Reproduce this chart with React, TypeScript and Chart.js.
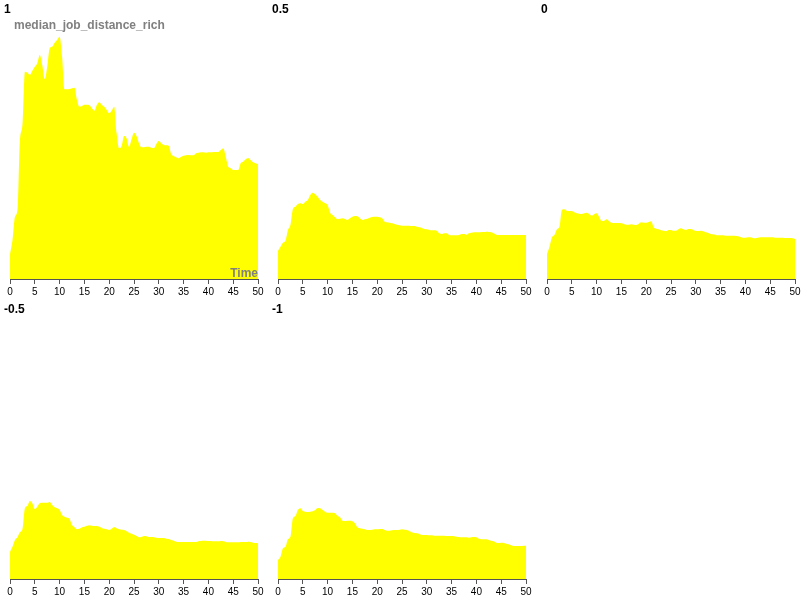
import React, { useEffect, useRef } from "react";
import { Chart, registerables } from "chart.js";

Chart.register(...registerables);

const FONT = '"Liberation Sans", Arial, Helvetica, sans-serif';

// Time grid (x values)
const times = [
  0, 0.5, 1, 1.5, 2, 2.5, 3, 3.5, 4, 4.5,
  5, 5.5, 6, 6.5, 7, 7.5, 8, 8.5, 9, 9.5,
  10, 10.5, 11, 11.5, 12, 12.5, 13, 13.5, 14, 14.5,
  15, 15.5, 16, 16.5, 17, 17.5, 18, 18.5, 19, 19.5,
  20, 20.5, 21, 21.5, 22, 22.5, 23, 23.5, 24, 24.5,
  25, 25.5, 26, 26.5, 27, 27.5, 28, 28.5, 29, 29.5,
  30, 30.5, 31, 31.5, 32, 32.5, 33, 33.5, 34, 34.5,
  35, 35.5, 36, 36.5, 37, 37.5, 38, 38.5, 39, 39.5,
  40, 40.5, 41, 41.5, 42, 42.5, 43, 43.5, 44, 44.5,
  45, 45.5, 46, 46.5, 47, 47.5, 48, 48.5, 49, 49.5,
  50,
];

const xTicks = [0, 5, 10, 15, 20, 25, 30, 35, 40, 45, 50];

const panelLabels = ["1", "0.5", "0", "-0.5", "-1"];
const yTitle = "median_job_distance_rich";
const xTitle = "Time";

const series1 = [
  10.0, 15.6, 24.9, 27.6, 55.6, 61.6, 82.9, 82.5, 81.6, 83.3,
  84.9, 86.3, 89.6, 85.6, 80.0, 84.9, 92.3, 92.9, 94.5, 95.6,
  96.9, 88.9, 75.9, 75.9, 76.0, 76.3, 76.5, 71.6, 68.9, 69.2,
  69.7, 69.7, 69.5, 68.3, 67.3, 69.6, 70.7, 69.6, 68.9, 67.6,
  66.3, 67.3, 68.9, 58.3, 52.3, 53.2, 57.2, 56.3, 52.9, 55.9,
  58.5, 57.2, 54.3, 52.7, 52.7, 52.9, 52.9, 52.5, 52.3, 54.0,
  55.2, 54.3, 53.6, 53.5, 53.3, 50.0, 49.2, 48.7, 48.3, 48.9,
  49.3, 49.5, 49.6, 49.5, 49.5, 50.3, 50.5, 50.7, 50.7, 50.5,
  50.7, 50.7, 50.8, 50.8, 50.8, 51.6, 52.3, 48.9, 44.9, 44.3,
  43.6, 43.6, 43.6, 46.3, 46.9, 47.9, 48.4, 47.6, 46.7, 46.3,
  45.9,
];

const series05 = [
  11.3, 12.9, 14.5, 15.3, 19.6, 21.6, 28.0, 28.9, 30.0, 30.3,
  30.0, 30.9, 31.6, 33.6, 34.5, 33.9, 32.9, 31.6, 30.9, 30.3,
  29.6, 26.5, 25.6, 24.7, 23.9, 24.1, 24.3, 24.0, 23.6, 24.3,
  24.9, 25.2, 25.1, 24.3, 23.6, 23.9, 24.1, 24.5, 24.8, 24.9,
  24.9, 24.7, 24.3, 22.9, 22.7, 22.5, 22.3, 22.0, 21.7, 21.5,
  21.3, 21.3, 21.3, 21.3, 21.2, 21.2, 20.9, 20.7, 20.4, 20.0,
  19.9, 19.6, 19.5, 19.5, 19.3, 18.3, 18.0, 18.3, 18.3, 17.6,
  17.5, 17.5, 17.5, 17.6, 18.0, 18.0, 17.7, 18.3, 18.5, 18.7,
  18.7, 18.7, 18.8, 18.8, 18.9, 18.8, 18.7, 18.3, 17.7, 17.6,
  17.6, 17.6, 17.6, 17.6, 17.6, 17.6, 17.6, 17.6, 17.6, 17.6,
  17.6,
];

const series0 = [
  10.0, 12.9, 16.7, 17.6, 19.9, 20.9, 27.6, 27.9, 27.3, 27.2,
  27.2, 26.7, 26.3, 26.1, 26.0, 26.3, 26.5, 26.0, 25.3, 25.9,
  26.3, 24.9, 23.2, 23.3, 23.9, 23.2, 22.5, 22.4, 22.4, 22.4,
  22.3, 22.0, 21.7, 21.7, 21.9, 21.7, 21.6, 22.1, 22.7, 22.5,
  22.5, 22.8, 23.1, 20.7, 20.1, 19.9, 19.5, 19.3, 19.1, 19.6,
  19.6, 19.3, 19.3, 19.9, 20.3, 19.9, 19.6, 20.0, 20.0, 19.6,
  19.2, 19.2, 19.3, 19.1, 18.7, 18.4, 18.0, 17.9, 17.6, 17.5,
  17.5, 17.5, 17.3, 17.3, 17.3, 17.3, 17.2, 17.1, 16.8, 16.5,
  16.5, 16.7, 16.7, 16.4, 16.3, 16.5, 16.7, 16.7, 16.7, 16.7,
  16.7, 16.7, 16.5, 16.5, 16.5, 16.5, 16.4, 16.4, 16.4, 16.3,
  16.0,
];

const seriesM05 = [
  10.9, 12.9, 15.6, 16.7, 18.7, 19.9, 28.3, 29.2, 31.2, 30.3,
  28.0, 28.9, 30.3, 30.5, 30.5, 30.5, 30.8, 29.6, 28.7, 28.3,
  27.6, 25.6, 24.9, 24.5, 24.0, 21.6, 20.7, 19.9, 20.1, 20.7,
  20.9, 21.3, 21.5, 21.3, 21.2, 21.2, 20.9, 20.4, 20.1, 19.9,
  19.6, 20.1, 20.8, 20.3, 19.9, 19.7, 19.6, 19.1, 18.5, 18.1,
  17.7, 17.2, 16.7, 16.8, 17.2, 17.1, 16.8, 16.8, 16.7, 16.5,
  16.4, 16.4, 16.4, 16.1, 16.0, 15.6, 15.3, 14.9, 14.8, 14.8,
  14.8, 14.8, 14.8, 14.8, 14.8, 14.8, 15.1, 15.2, 15.3, 15.3,
  15.2, 15.2, 15.1, 15.1, 15.1, 15.2, 15.1, 14.8, 14.7, 14.7,
  14.7, 14.7, 14.7, 14.8, 14.8, 14.8, 14.9, 14.8, 14.5, 14.4,
  14.3,
];

const seriesM1 = [
  7.6, 8.9, 12.3, 12.9, 15.9, 16.9, 24.3, 25.2, 27.6, 28.3,
  27.2, 26.9, 26.8, 26.9, 27.1, 27.6, 28.4, 28.3, 27.6, 26.9,
  26.5, 26.5, 26.5, 26.3, 25.2, 24.7, 23.3, 23.2, 23.3, 23.3,
  23.1, 22.3, 20.7, 20.3, 20.1, 19.9, 19.6, 19.6, 19.7, 19.9,
  19.9, 20.0, 20.0, 19.6, 19.3, 19.3, 19.5, 19.6, 19.6, 19.7,
  19.9, 19.7, 19.6, 19.2, 18.7, 18.4, 18.3, 18.0, 17.6, 17.6,
  17.6, 17.5, 17.5, 17.3, 17.3, 17.3, 17.3, 17.3, 17.2, 17.2,
  17.2, 17.1, 16.9, 16.8, 16.7, 16.7, 16.7, 16.5, 16.7, 16.8,
  16.7, 16.1, 15.9, 15.9, 15.9, 15.6, 15.3, 15.1, 14.5, 14.4,
  14.5, 14.4, 14.1, 13.9, 13.5, 13.2, 13.2, 13.2, 13.2, 13.3,
  13.3,
];

const allSeries = [series1, series05, series0, seriesM05, seriesM1];

const Y_MAX = 100;
const PANEL_W = 268;
const PANEL_H = 300;
const panelPos = [
  { left: 0, top: 0 },
  { left: 268, top: 0 },
  { left: 537, top: 0 },
  { left: 0, top: 300 },
  { left: 268, top: 300 },
];

const textPlugin = {
  id: "panelText",
  afterDraw(chart: any, _args: any, opts: any) {
    const ctx = chart.ctx;
    ctx.save();
    ctx.textBaseline = "alphabetic";
    ctx.font = `bold 12px ${FONT}`;
    ctx.fillStyle = "#000";
    ctx.textAlign = "left";
    ctx.fillText(opts.label, 4, 13);
    if (opts.showTitles) {
      ctx.fillStyle = "#808080";
      ctx.fillText(yTitle, 14, 29);
      ctx.textAlign = "right";
      ctx.fillText(xTitle, chart.chartArea.right, 277);
    }
    ctx.restore();
  },
};

function Panel({ idx }: { idx: number }) {
  const ref = useRef<HTMLCanvasElement>(null);
  useEffect(() => {
    if (!ref.current) return;
    const values = allSeries[idx];
    const chart = new Chart(ref.current, {
      type: "line",
      data: {
        datasets: [
          {
            data: times.map((t, i) => ({ x: t, y: values[i] })),
            fill: "origin",
            backgroundColor: "#ffff00",
            borderColor: "rgba(0,0,0,0)",
            borderWidth: 0,
            pointRadius: 0,
            cubicInterpolationMode: "monotone",
          },
        ],
      },
      options: {
        animation: false,
        responsive: false,
        devicePixelRatio: 1,
        layout: { padding: { left: 10, right: 10, top: 29, bottom: 0 } },
        plugins: {
          legend: { display: false },
          tooltip: { enabled: false },
          title: { display: false },
          panelText: { label: panelLabels[idx], showTitles: idx === 0 },
        } as any,
        scales: {
          x: {
            type: "linear",
            min: 0,
            max: 50,
            afterBuildTicks: (s: any) => {
              s.ticks = xTicks.map((v) => ({ value: v }));
            },
            afterFit: (s: any) => {
              s.height = 21;
            },
            border: { display: true, color: "#555", width: 1 },
            grid: {
              display: true,
              drawOnChartArea: false,
              drawTicks: true,
              tickLength: 5,
              color: "#555",
            },
            ticks: {
              autoSkip: false,
              maxRotation: 0,
              padding: 2,
              color: "#000",
              font: { size: 10, family: FONT },
            },
          },
          y: {
            display: false,
            min: 0,
            max: Y_MAX,
          },
        },
      },
      plugins: [textPlugin],
    } as any);
    return () => chart.destroy();
  }, [idx]);
  const pos = panelPos[idx];
  return (
    <canvas
      ref={ref}
      width={PANEL_W}
      height={PANEL_H}
      style={{
        position: "absolute",
        left: pos.left,
        top: pos.top,
        width: PANEL_W,
        height: PANEL_H,
      }}
    />
  );
}

export default function App() {
  return (
    <div
      style={{
        position: "absolute",
        left: 0,
        top: 0,
        width: 805,
        height: 600,
        background: "#fff",
        overflow: "hidden",
      }}
    >
      {allSeries.map((_, i) => (
        <Panel key={i} idx={i} />
      ))}
    </div>
  );
}
